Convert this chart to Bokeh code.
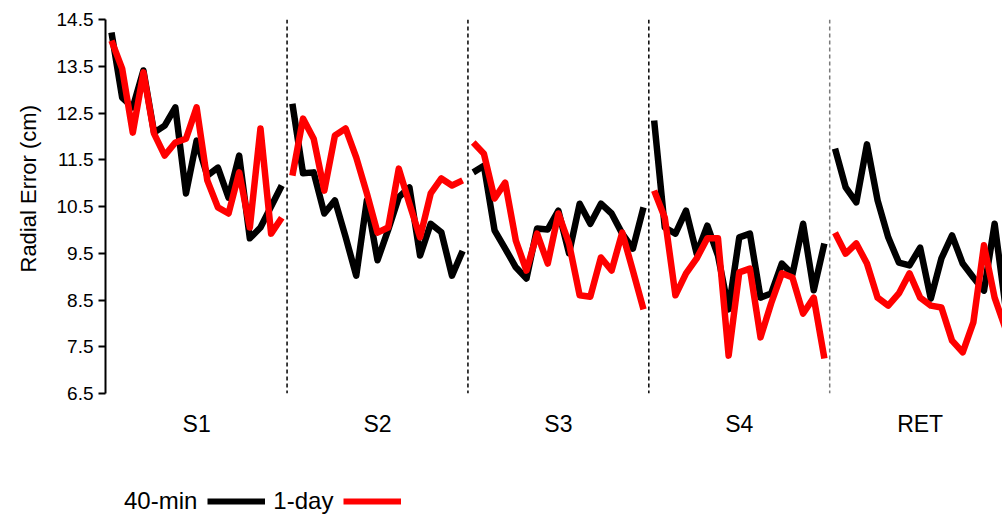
from bokeh.plotting import figure
from bokeh.layouts import column
from bokeh.models import Legend, LegendItem, Span, FixedTicker, Range1d, Title
from bokeh.embed import file_html
from bokeh.resources import INLINE

# ---- data ----
sessions = ["S1", "S2", "S3", "S4", "RET"]
points_per_session = 17

black_40min = [
    # S1
    14.22, 12.83, 12.62, 13.41, 12.08, 12.23, 12.62, 10.78, 11.91, 11.16, 11.33, 10.69, 11.59, 9.82, 10.05, 10.50, 10.95,
    # S2
    12.70, 11.21, 11.23, 10.35, 10.63, 9.85, 9.02, 10.63, 9.35, 10.00, 10.70, 10.91, 9.45, 10.13, 9.95, 9.02, 9.55,
    # S3
    11.23, 11.37, 9.99, 9.60, 9.20, 8.96, 10.03, 10.01, 10.41, 9.50, 10.56, 10.13, 10.56, 10.35, 9.92, 9.60, 10.48,
    # S4
    12.34, 10.05, 9.92, 10.41, 9.49, 10.09, 9.45, 8.30, 9.84, 9.92, 8.55, 8.64, 9.28, 9.05, 10.13, 8.71, 9.71,
    # RET
    11.74, 10.91, 10.59, 11.83, 10.63, 9.84, 9.30, 9.24, 9.62, 8.53, 9.39, 9.88, 9.28, 8.98, 8.70, 10.13, 8.40,
]
red_1day = [
    # S1
    14.05, 13.45, 12.08, 13.37, 12.06, 11.59, 11.87, 11.95, 12.62, 11.06, 10.48, 10.35, 11.23, 10.05, 12.17, 9.92, 10.26,
    # S2
    11.16, 12.38, 11.95, 10.84, 12.02, 12.17, 11.55, 10.78, 9.94, 10.05, 11.31, 10.56, 9.84, 10.78, 11.10, 10.95, 11.06,
    # S3
    11.87, 11.63, 10.67, 11.01, 9.77, 9.13, 9.92, 9.28, 10.35, 9.71, 8.60, 8.57, 9.41, 9.13, 9.94, 9.13, 8.30,
    # S4
    10.84, 10.26, 8.60, 9.07, 9.39, 9.82, 9.82, 7.31, 9.09, 9.17, 7.70, 8.43, 9.07, 8.98, 8.21, 8.55, 7.25,
    # RET
    9.94, 9.49, 9.71, 9.28, 8.55, 8.38, 8.64, 9.07, 8.55, 8.38, 8.34, 7.63, 7.38, 8.02, 9.67, 8.55, 7.90,
]
y_ticks = [6.5, 7.5, 8.5, 9.5, 10.5, 11.5, 12.5, 13.5, 14.5]
series_labels = ["40-min", "1-day"]
series_colors = ["black", "#ff0000"]
separator_colors = ["black", "black", "black", "#7a7a7a"]

FONT = "Liberation Sans"

p = figure(width=1002, height=470, output_backend="svg", toolbar_location=None,
           x_range=Range1d(-0.564, 83.74), y_range=Range1d(6.5, 14.5),
           min_border_left=105, min_border_right=0, min_border_top=19, min_border_bottom=77)
p.outline_line_color = None
p.xgrid.visible = False
p.ygrid.visible = False
p.background_fill_color = "white"
p.border_fill_color = "white"

# y axis
p.yaxis.ticker = FixedTicker(ticks=y_ticks)
p.yaxis.major_label_overrides = {t: f"{t:.1f}" for t in y_ticks}
p.yaxis.minor_tick_line_color = None
p.yaxis.major_tick_in = 0
p.yaxis.major_tick_out = 7
p.yaxis.major_tick_line_width = 2
p.yaxis.axis_line_width = 2
p.yaxis.major_label_standoff = 5
p.yaxis.major_label_text_font = FONT
p.yaxis.major_label_text_font_size = "19px"
p.yaxis.major_label_text_color = "black"

# y-axis title, starting a little above the frame bottom as in the reference
ytitle = Title(text="Radial Error (cm)", align="left", offset=121, standoff=26,
               text_font=FONT, text_font_size="22px", text_font_style="normal",
               text_color="black")
p.add_layout(ytitle, "left")

# x axis: session labels at session centres
centers = [points_per_session * k + (points_per_session - 1) / 2 for k in range(len(sessions))]
p.xaxis.ticker = FixedTicker(ticks=centers)
p.xaxis.major_label_overrides = {c: s for c, s in zip(centers, sessions)}
p.xaxis.axis_line_color = None
p.xaxis.major_tick_line_color = None
p.xaxis.minor_tick_line_color = None
p.xaxis.major_label_standoff = 11
p.xaxis.major_label_text_font = FONT
p.xaxis.major_label_text_font_size = "23px"
p.xaxis.major_label_text_color = "black"

# separators
for k, col in enumerate(separator_colors):
    xs = points_per_session * (k + 1) - 0.5
    p.add_layout(Span(location=xs, dimension="height", line_color=col,
                      line_width=1.5, line_dash="4 3"))

for series, col in zip([black_40min, red_1day], series_colors):
    for k in range(len(sessions)):
        xs = list(range(points_per_session * k, points_per_session * (k + 1)))
        p.line(xs, series[points_per_session * k: points_per_session * (k + 1)],
               line_color=col, line_width=6.5, line_join="round")

# legend strip: "label  line  label  line"
lg = figure(width=1002, height=45, output_backend="svg", toolbar_location=None,
            x_axis_type=None, y_axis_type=None, x_range=Range1d(0, 1), y_range=Range1d(0, 1),
            min_border=0)
lg.outline_line_color = None
lg.xgrid.visible = False
lg.ygrid.visible = False
# proxy renderers (outside the visible range) that only provide legend glyphs
blank = lg.line([5, 6], [5, 6], line_alpha=0)
r_black = lg.line([5, 6], [5, 6], line_color=series_colors[0], line_width=6)
r_red = lg.line([5, 6], [5, 6], line_color=series_colors[1], line_width=6)
legend = Legend(items=[LegendItem(label=series_labels[0], renderers=[blank]),
                       LegendItem(label=series_labels[1], renderers=[r_black]),
                       LegendItem(label="", renderers=[r_red])],
                orientation="horizontal", location=(-47, 0),
                glyph_width=58, glyph_height=20, label_standoff=8, spacing=10,
                padding=0, margin=0, border_line_color=None, background_fill_alpha=0,
                label_text_font=FONT, label_text_font_size="24px", label_text_color="black")
lg.add_layout(legend, "center")

layout = column(p, lg, spacing=0)
open("out.html", "w").write(file_html(layout, INLINE))
